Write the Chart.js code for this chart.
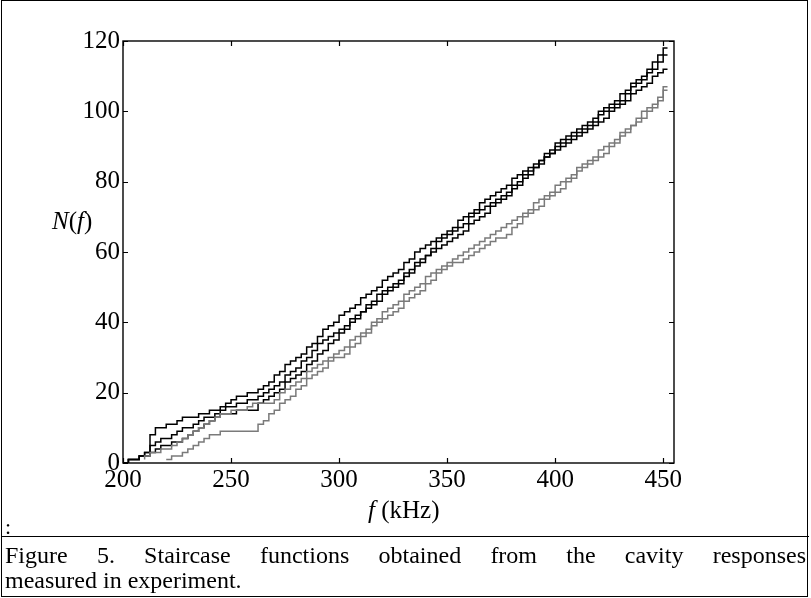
<!DOCTYPE html>
<html>
<head>
<meta charset="utf-8">
<script src="https://cdn.jsdelivr.net/npm/chart.js@4/dist/chart.umd.min.js"></script>
<style>
  body { margin: 0; background: #fff; }
  #fig { position: relative; width: 811px; height: 598px; overflow: hidden; font-family: 'Liberation Serif', 'Times New Roman', serif; }
  #frame { position: absolute; left: 1px; top: 0; width: 807px; height: 597px; border: 1.5px solid #000; box-sizing: border-box; }
  #sep { position: absolute; left: 1px; top: 536px; width: 808px; height: 0; border-top: 1.5px solid #000; }
  canvas { position: absolute; left: 0; top: 0; }
  .lbl { position: absolute; font-size: 25px; color: #000; white-space: nowrap; }
  #colon { position: absolute; left: 5px; top: 514px; font-size: 22px; }
  #caption { position: absolute; left: 5px; top: 543px; width: 801px; font-size: 24px; line-height: 25px; }
  #caption .l1 { text-align: justify; text-align-last: justify; }
</style>
</head>
<body>
<div id="fig">
  <canvas id="grafico" width="811" height="537"></canvas>
  <div id="frame"></div>
  <div id="sep"></div>
  <div class="lbl" id="ylab" style="left:52px; top:207px;"><i>N</i>(<i>f</i>)</div>
  <div class="lbl" id="xlab" style="left:368px; top:496px;"><i>f</i> (kHz)</div>
  <div id="colon">:</div>
  <div id="caption">
    <div class="l1">Figure 5. Staircase functions obtained from the cavity responses</div>
    <div>measured in experiment.</div>
  </div>
</div>
<script>
// frequencias (kHz) onde o valor de N(f) foi lido
const freqs = [200, 202.5, 205, 207.5, 210, 212.5, 215, 217.5, 220, 222.5,
               225, 227.5, 230, 232.5, 235, 237.5, 240, 242.5, 245, 247.5,
               250, 252.5, 255, 257.5, 260, 262.5, 265, 267.5, 270, 272.5,
               275, 277.5, 280, 282.5, 285, 287.5, 290, 292.5, 295, 297.5,
               300, 302.5, 305, 307.5, 310, 312.5, 315, 317.5, 320, 322.5,
               325, 327.5, 330, 332.5, 335, 337.5, 340, 342.5, 345, 347.5,
               350, 352.5, 355, 357.5, 360, 362.5, 365, 367.5, 370, 372.5,
               375, 377.5, 380, 382.5, 385, 387.5, 390, 392.5, 395, 397.5,
               400, 402.5, 405, 407.5, 410, 412.5, 415, 417.5, 420, 422.5,
               425, 427.5, 430, 432.5, 435, 437.5, 440, 442.5, 445, 447.5,
               450, 452];

const preto1 = [0, 0, 1, 1, 2, 3, 8, 10, 10, 11,
                11, 12, 13, 13, 13, 14, 14, 15, 15, 16,
                17, 18, 19, 19, 20, 20, 21, 22, 23, 25,
                26, 28, 29, 30, 31, 33, 34, 36, 38, 39,
                40, 42, 43, 44, 45, 47, 48, 49, 50, 52,
                53, 54, 55, 57, 58, 60, 61, 62, 63, 64,
                65, 66, 67, 69, 70, 71, 72, 74, 75, 76,
                77, 78, 79, 81, 82, 83, 84, 85, 86, 88,
                89, 91, 92, 93, 94, 95, 96, 97, 98, 100,
                101, 102, 103, 105, 106, 108, 109, 110, 112, 114,
                116, 118];

const preto2 = [0, 0, 1, 1, 2, 3, 5, 6, 7, 7,
                8, 9, 10, 10, 11, 12, 13, 13, 14, 15,
                16, 16, 17, 17, 18, 18, 19, 20, 21, 22,
                23, 25, 26, 27, 29, 30, 32, 34, 35, 36,
                37, 38, 39, 41, 42, 43, 45, 46, 48, 49,
                50, 51, 52, 54, 55, 57, 58, 59, 61, 63,
                64, 65, 66, 67, 68, 70, 71, 72, 73, 74,
                75, 76, 77, 79, 80, 82, 83, 84, 86, 87,
                88, 90, 91, 92, 93, 94, 95, 96, 97, 99,
                100, 101, 102, 103, 105, 107, 108, 109, 111, 112,
                114, 116];

const preto3 = [0, 0, 1, 1, 2, 2, 3, 4, 5, 5,
                6, 6, 7, 8, 9, 10, 11, 12, 13, 14,
                14, 14, 15, 15, 15, 15, 17, 18, 19, 20,
                21, 23, 24, 25, 26, 28, 29, 31, 32, 34,
                35, 37, 38, 40, 41, 43, 44, 45, 46, 48,
                49, 50, 51, 53, 54, 56, 57, 59, 60, 61,
                62, 63, 64, 65, 66, 68, 69, 70, 71, 73,
                74, 75, 76, 78, 79, 81, 82, 84, 85, 87,
                88, 89, 90, 91, 92, 93, 94, 95, 96, 97,
                98, 100, 101, 102, 103, 105, 106, 107, 108, 110,
                111, 112];

const cinza1 = [null, null, null, null, 1, 2, 3, 3, 4, 4,
                5, 6, 7, 8, 9, 10, 11, 12, 13, 14,
                14, 15, 15, 15, 16, 17, 17, 17, 17, 18,
                20, 21, 22, 23, 24, 26, 27, 28, 29, 30,
                31, 32, 33, 35, 36, 37, 38, 40, 41, 43,
                44, 45, 46, 48, 49, 50, 51, 53, 54, 55,
                56, 57, 58, 59, 60, 61, 62, 63, 64, 65,
                66, 67, 68, 69, 70, 71, 72, 74, 75, 76,
                77, 79, 80, 81, 82, 84, 85, 86, 87, 89,
                90, 91, 92, 94, 95, 96, 98, 100, 101, 102,
                104, 107];

const cinza2 = [null, null, null, null, null, null, null, null, 1, 1,
                2, 2, 3, 4, 5, 6, 7, 8, 8, 9,
                9, 9, 9, 9, 9, 9, 11, 12, 14, 15,
                17, 18, 19, 21, 22, 24, 25, 26, 27, 29,
                30, 30, 31, 33, 34, 36, 37, 39, 40, 41,
                42, 43, 44, 46, 47, 48, 49, 51, 52, 54,
                55, 56, 57, 57, 58, 59, 60, 61, 62, 63,
                64, 64, 65, 67, 68, 70, 71, 72, 73, 75,
                76, 77, 78, 80, 81, 83, 84, 85, 86, 87,
                88, 90, 91, 93, 94, 96, 97, 98, 100, 101,
                103, 106];

const xTicks = [200, 250, 300, 350, 400, 450];
const yTicks = [0, 20, 40, 60, 80, 100, 120];

const pontos = (vals) => freqs.map((f, i) => ({ x: f, y: vals[i] }));

const serie = (vals, cor) => ({
    data: pontos(vals),
    borderColor: cor,
    borderWidth: 1.5,
    pointRadius: 0,
    stepped: 'after',
    fill: false
});

// moldura e ticks para dentro, nos quatro lados (estilo matlab)
const molduraPlugin = {
    id: 'moldura',
    afterDraw(chart) {
        const { ctx, chartArea: a, scales } = chart;
        ctx.save();
        ctx.strokeStyle = '#000';
        ctx.lineWidth = 1.4;
        ctx.strokeRect(a.left, a.top, a.right - a.left, a.bottom - a.top);
        ctx.lineWidth = 1.2;
        ctx.beginPath();
        xTicks.forEach(v => {
            const px = Math.round(scales.x.getPixelForValue(v)) + 0.5;
            ctx.moveTo(px, a.bottom); ctx.lineTo(px, a.bottom - 5);
            ctx.moveTo(px, a.top); ctx.lineTo(px, a.top + 5);
        });
        yTicks.forEach(v => {
            const py = Math.round(scales.y.getPixelForValue(v)) + 0.5;
            ctx.moveTo(a.left, py); ctx.lineTo(a.left + 5, py);
            ctx.moveTo(a.right, py); ctx.lineTo(a.right - 5, py);
        });
        ctx.stroke();
        ctx.restore();
    }
};

const fonte = { family: "'Liberation Serif', 'Times New Roman', serif", size: 25 };

new Chart(document.getElementById('grafico'), {
    type: 'line',
    data: {
        datasets: [
            serie(cinza2, '#7a7a7a'),
            serie(cinza1, '#7a7a7a'),
            serie(preto3, '#000000'),
            serie(preto2, '#000000'),
            serie(preto1, '#000000')
        ]
    },
    options: {
        responsive: false,
        animation: false,
        devicePixelRatio: 1,
        layout: { padding: { left: 0, right: 137, top: 41, bottom: 0 } },
        scales: {
            x: {
                type: 'linear',
                min: 200,
                max: 455,
                afterBuildTicks: (s) => { s.ticks = xTicks.map(v => ({ value: v })); },
                afterFit: (s) => { s.height = 74; },
                ticks: { color: '#000', font: fonte, padding: 2, maxRotation: 0 },
                grid: { display: false, drawTicks: false },
                border: { display: false }
            },
            y: {
                min: 0,
                max: 120,
                afterBuildTicks: (s) => { s.ticks = yTicks.map(v => ({ value: v })); },
                afterFit: (s) => { s.width = 123; },
                ticks: { color: '#000', font: fonte, padding: 3 },
                grid: { display: false, drawTicks: false },
                border: { display: false }
            }
        },
        plugins: {
            legend: { display: false },
            tooltip: { enabled: false }
        }
    },
    plugins: [molduraPlugin]
});
</script>
</body>
</html>
